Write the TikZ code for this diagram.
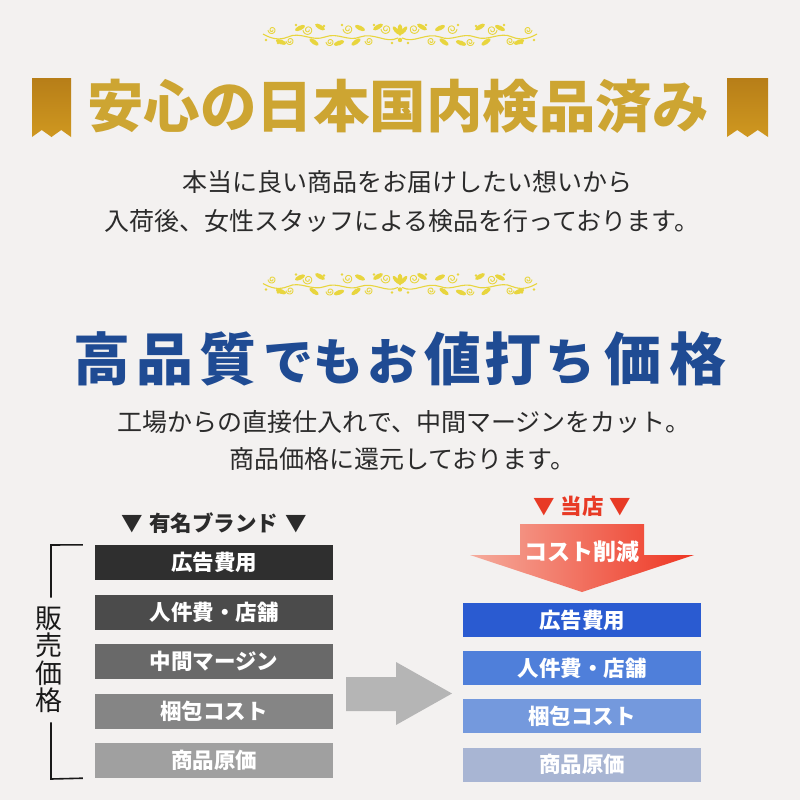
\documentclass[tikz,border=0pt]{standalone}
\usepackage{fontspec}
\newfontfamily\jp{Noto Sans CJK JP}
\usetikzlibrary{calc}
\definecolor{bg}{HTML}{F3F1F0}
\definecolor{orncol}{HTML}{E8D53E}
\definecolor{goldtxt}{HTML}{CDA532}
\definecolor{rbA}{HTML}{B77E18}
\definecolor{rbB}{HTML}{F7D850}
\definecolor{rbC}{HTML}{CF9820}
\definecolor{navy}{HTML}{1F4B93}
\definecolor{ink}{HTML}{2B2B2B}
\definecolor{gA}{HTML}{2F2F2F}
\definecolor{gB}{HTML}{4B4B4B}
\definecolor{gC}{HTML}{696969}
\definecolor{gD}{HTML}{858585}
\definecolor{gE}{HTML}{A0A0A0}
\definecolor{bA}{HTML}{2A5BD1}
\definecolor{bB}{HTML}{4F7FDA}
\definecolor{bC}{HTML}{7499DD}
\definecolor{bD}{HTML}{A8B5D3}
\definecolor{redtxt}{HTML}{E83A25}
\definecolor{redL}{HTML}{F5AB9C}
\definecolor{redR}{HTML}{EE3522}
\definecolor{arrowgray}{HTML}{B5B5B5}
\newcommand\flourish[1]{%
\begin{scope}[shift={#1}]
\foreach \s in {1,-1}{
\begin{scope}[xscale=\s]
\draw[orncol,line width=1.1pt] (2,3) .. controls (14,9) and (26,-3) .. (40,2) .. controls (52,7) and (62,-3) .. (75,2) .. controls (88,7) and (100,-4) .. (112,2) .. controls (122,6) and (130,3) .. (137,-1);
\foreach \cx/\cy/\r in {14/-6/5, 31/6/4, 52/-6/5, 70/7/4, 92/-5/5, 110/6/4, 128/-5/4}{
\draw[orncol,line width=0.9pt] plot[domain=0:560,samples=30,smooth,variable=\t] ({\cx+\r*(1-\t/700)*cos(\t)},{\cy+\r*(1-\t/700)*sin(\t)});
}
\foreach \lx/\ly/\a in {22/-8/-30, 40/-7/25, 61/8/-20, 80/-8/30, 100/-7/-25, 119/7/20, 44/7/-35, 86/7/35}{
\fill[orncol,rotate around={\a:(\lx,\ly)}] (\lx,\ly) ellipse (5.5 and 2.3);
}
\foreach \dx/\dy in {8/8, 26/-10, 58/-10, 76/-9, 104/-10, 122/8, 134/5}{
\fill[orncol] (\dx,\dy) circle (1.4);
}
\end{scope}}
\fill[orncol] (0,-5) ellipse (2.4 and 6);
\fill[orncol,rotate around={40:(0,0)}] (0,-6) ellipse (2 and 5);
\fill[orncol,rotate around={-40:(0,0)}] (0,-6) ellipse (2 and 5);
\fill[orncol] (0,5) circle (2.2);
\end{scope}}
\tikzset{
  body/.style={font=\jp\fontsize{25}{28}\selectfont, text=ink, inner sep=0pt},
  lbox/.style={minimum width=238, minimum height=35, inner sep=0pt, text=white, font=\jp\bfseries\fontsize{21.5}{22}\selectfont},
  rbox/.style={minimum width=238, minimum height=34, inner sep=0pt, text=white, font=\jp\bfseries\fontsize{21.5}{22}\selectfont},
  bigk/.style={anchor=base, inner sep=0pt, text=navy, font=\jp\bfseries\fontsize{57}{57}\selectfont},
  bigkana/.style={anchor=base, inner sep=0pt, text=navy, font=\jp\bfseries\fontsize{50}{50}\selectfont},
  ribbon/.style={top color=rbA, middle color=rbB, bottom color=rbC},
  bracket/.style={draw=black!90, line width=1.6pt}
}
\begin{document}
\begin{tikzpicture}[x=1pt,y=-1pt]
\useasboundingbox (0,0) rectangle (800,800);
\fill[bg] (0,0) rectangle (800,800);

% ornaments
\flourish{(400,35)}
\flourish{(400,284.5)}

% ribbons
\shade[ribbon] (32,78) -- (71,78) -- (71,137) -- (61.25,130) -- (51.5,137) -- (41.75,130) -- (32,137) -- cycle;
\shade[ribbon] (727,78) -- (768,78) -- (768,137) -- (757.75,130) -- (747.5,137) -- (737.25,130) -- (727,137) -- cycle;

% title 1
\node[font=\jp\bfseries\fontsize{56.5}{60}\selectfont, text=goldtxt, inner sep=0pt] (t1) at (398,106) {安心の日本国内検品済み};

% body lines
\node[body] (l1) at (407,182) {本当に良い商品をお届けしたい想いから};
\node[body] (l2) at (402,221) {入荷後、女性スタッフによる検品を行っております。};

% blue title
\node[bigk] (c1) at (102,380) {高};
\node[bigk] (c2) at (165,380) {品};
\node[bigk] (c3) at (228,380) {質};
\node[bigkana] (c4) at (288,380) {で};
\node[bigkana] (c5) at (338,380) {も};
\node[bigkana] (c6) at (392,380) {お};
\node[bigk] (c7) at (453,380) {値};
\node[bigk] (c8) at (513,380) {打};
\node[bigkana] (c9) at (570,380) {ち};
\node[bigk] (c10) at (633,380) {価};
\node[bigk] (c11) at (698,380) {格};

\node[body] (l3) at (404,422) {工場からの直接仕入れで、中間マージンをカット。};
\node[body] (l4) at (402,459) {商品価格に還元しております。};

% left column
\node[font=\jp\bfseries\fontsize{21.5}{22}\selectfont, text=ink, inner sep=0pt] (brand) at (214,523) {▼\hspace{7pt}有名ブランド\hspace{7pt}▼};
\node[lbox, fill=gA] (a1) at (214,562.5) {広告費用};
\node[lbox, fill=gB] (a2) at (214,612.5) {人件費・店舗};
\node[lbox, fill=gC] (a3) at (214,661.5) {中間マージン};
\node[lbox, fill=gD] (a4) at (214,711.5) {梱包コスト};
\node[lbox, fill=gE] (a5) at (214,760.5) {商品原価};

\node[font=\jp\fontsize{27}{27.5}\selectfont, text=black!90, align=center, inner sep=0pt] (hk) at (49,660) {販\\売\\価\\格};
\coordinate (bt) at (51,545);
\coordinate (bb) at (51,779);
\draw[bracket] ($(a1.north west)+(-12,0)$) -- (bt) -- ($(hk.north)+(2,-9)$);
\draw[bracket] ($(hk.south)+(2,9)$) -- (bb) -- ($(a5.south west)+(-12,0)$);

% gray arrow
\fill[arrowgray] (346,677) -- (396,677) -- (396,662) -- (452,693.5) -- (396,725) -- (396,711) -- (346,711) -- cycle;

% right column
\node[font=\jp\bfseries\fontsize{21.5}{22}\selectfont, text=redtxt, inner sep=0pt] (shop) at (582,506) {▼\hspace{6pt}当店\hspace{6pt}▼};
\shade[left color=redL, right color=redR] (520,524) -- (644,524) -- (644,555) -- (694,555) -- (582,592) -- (470,555) -- (520,555) -- cycle;
\node[font=\jp\bfseries\fontsize{23}{24}\selectfont, text=white, inner sep=0pt] (cut) at (582,552) {コスト削減};

\node[rbox, fill=bA] (b1) at (582,620) {広告費用};
\node[rbox, fill=bB] (b2) at (582,668) {人件費・店舗};
\node[rbox, fill=bC] (b3) at (582,716) {梱包コスト};
\node[rbox, fill=bD] (b4) at (582,764.5) {商品原価};
\end{tikzpicture}
\end{document}
